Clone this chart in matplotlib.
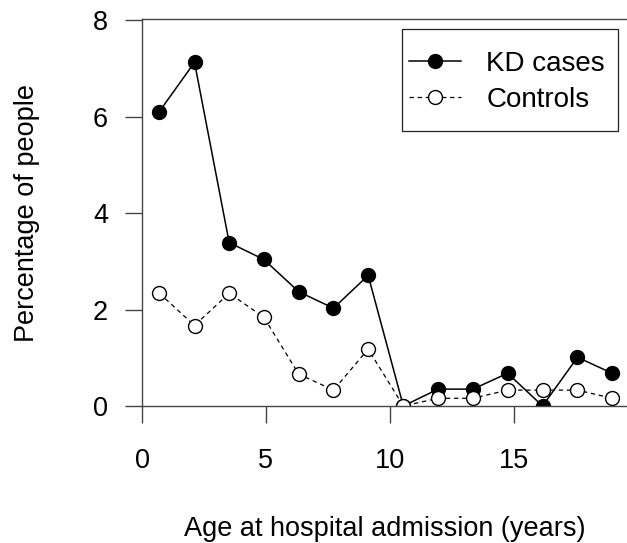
import matplotlib
matplotlib.use('Agg')
import matplotlib.pyplot as plt
from matplotlib.patches import Rectangle

plt.rcParams['font.family'] = ['Liberation Sans', 'DejaVu Sans']

# age bin midpoints (years)
age = [0.70, 2.12, 3.52, 4.92, 6.33, 7.73, 9.13, 10.55, 11.95, 13.36, 14.76, 16.17, 17.58, 18.98]
# percentage of people
kd_cases = [6.11, 7.13, 3.39, 3.04, 2.37, 2.03, 2.71, 0.0, 0.35, 0.35, 0.68, 0.0, 1.01, 0.68]
controls = [2.34, 1.67, 2.34, 1.84, 0.66, 0.33, 1.18, 0.0, 0.16, 0.16, 0.33, 0.33, 0.33, 0.16]

xticks = [0, 5, 10, 15]
yticks = [0, 2, 4, 6, 8]

W, H = 627, 543
fig = plt.figure(figsize=(W / 100, H / 100), dpi=100)
ax = fig.add_axes([142 / W, 1 - 406 / H, (628 - 142) / W, (406 - 19) / H])

ax.plot(age, kd_cases, '-', color='black', lw=1.1, marker='o', ms=10,
        mfc='black', mec='black', label='KD cases', clip_on=True)
ax.plot(age, controls, '--', color='black', lw=0.9, dashes=(3.5, 3), marker='o', ms=10,
        mfc='white', mec='black', mew=1.0, label='Controls', clip_on=True)

ax.set_xlim(0, 19.62)
ax.set_ylim(0, 8.03)
ax.set_xticks(xticks)
ax.set_yticks(yticks)

for s in ax.spines.values():
    s.set_color('#444444')
    s.set_linewidth(1.0)
ax.spines['right'].set_visible(False)

ax.tick_params(axis='both', direction='out', length=12.5, width=1.0, color='#444444',
               labelsize=19.5)
ax.tick_params(axis='x', pad=18)
ax.tick_params(axis='y', pad=12)

ax.set_xlabel('Age at hospital admission (years)', fontsize=19.5, labelpad=30)
ax.set_ylabel('Percentage of people', fontsize=19.5, labelpad=38)

# legend entries without frame, R-style box drawn separately
leg = ax.legend(loc='upper left', bbox_to_anchor=(409 / W, 1 - 51 / H),
                bbox_transform=fig.transFigure, fontsize=20, frameon=False,
                borderaxespad=0, borderpad=0,
                handlelength=1.87, handletextpad=0.92, labelspacing=0.36)
fig.patches.append(Rectangle((401.7 / W, 1 - 131.3 / H), 216 / W, 102 / H,
                             transform=fig.transFigure, fill=False,
                             edgecolor='#222222', lw=0.9, zorder=5))

fig.savefig('out.png', dpi=100)
